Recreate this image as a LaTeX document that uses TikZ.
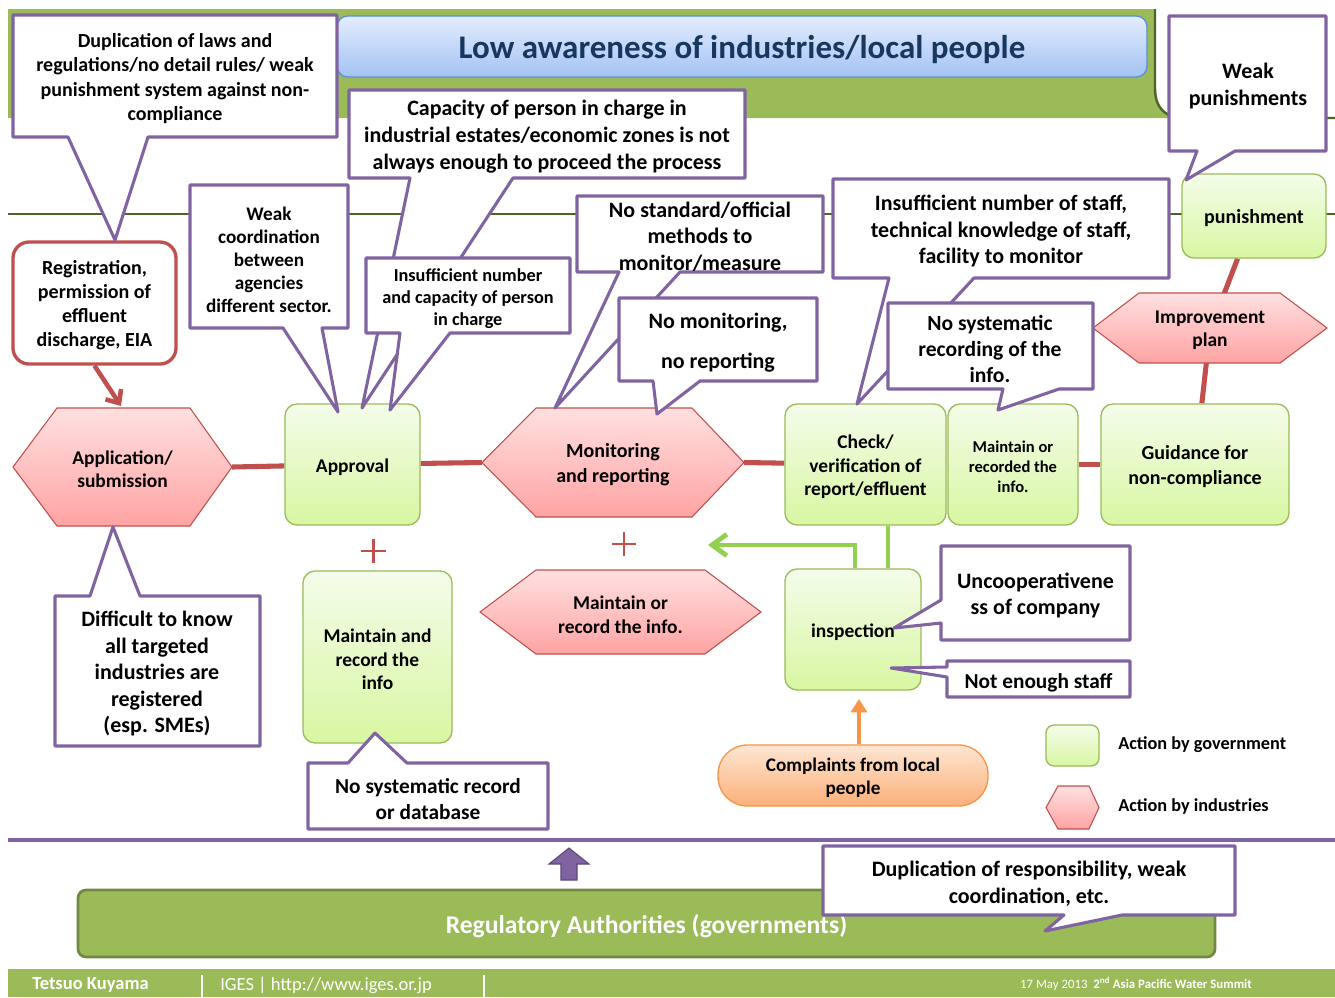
\documentclass[tikz,border=0pt]{standalone}
\usepackage{fontspec}
\setmainfont{Carlito}
\usetikzlibrary{arrows.meta}
\definecolor{bandgreen}{HTML}{9BBB59}
\definecolor{darkgreen}{HTML}{4F6228}
\definecolor{cpurple}{HTML}{8064A2}
\definecolor{cpurpledark}{HTML}{5C4776}
\definecolor{linkred}{HTML}{C0504D}
\definecolor{govtop}{HTML}{F4FCEA}
\definecolor{govbot}{HTML}{D8F7A2}
\definecolor{govborder}{HTML}{9BBB59}
\definecolor{indtop}{HTML}{FFE0E0}
\definecolor{indbot}{HTML}{FFA3A3}
\definecolor{titletop}{HTML}{E3EDFC}
\definecolor{titlebot}{HTML}{A3C2F4}
\definecolor{titleborder}{HTML}{5B8FD6}
\definecolor{titletext}{HTML}{17375E}
\definecolor{orgtop}{HTML}{FDE6D3}
\definecolor{orgbot}{HTML}{FBB07A}
\definecolor{orgborder}{HTML}{F79646}
\definecolor{arrgreen}{HTML}{92D050}
\definecolor{regborder}{HTML}{71893F}
\newcommand\ctf[2]{\bfseries\fontsize{#1}{#2}\selectfont}
\newcommand\govnode[7][]{%
  \node[govbox, minimum width={(#5-#3)*0.75pt}, minimum height={(#6-#4)*0.75pt}, #1] (#2) at ({(#3+#5)/2},{(#4+#6)/2}) {};
  \node[boxtext, #1] (#2-t) at (#2.center) {#7};}
\newcommand\indnode[9][]{%
  \path[indhex] (#3,{(#7+#8)/2}) -- (#4,#7) -- (#5,#7) -- (#6,{(#7+#8)/2}) -- (#5,#8) -- (#4,#8) -- cycle;
  \coordinate (#2-w) at (#3,{(#7+#8)/2});
  \coordinate (#2-e) at (#6,{(#7+#8)/2});
  \node[boxtext, #1] (#2) at ({(#3+#6)/2},{(#7+#8)/2}) {#9};}
\pgfdeclarelayer{bgzero}
\pgfdeclarelayer{links}
\pgfsetlayers{bgzero,links,main}
\begin{document}
\begin{tikzpicture}[x=0.75pt,y=-0.75pt,
  calloutbox/.style={draw=cpurple, line width=2.3pt, fill=white, line join=round},
  ctext/.style={font=\ctf{16.5}{19.9}, align=center, inner sep=0pt, text=black, yshift=-2pt},
  govbox/.style={draw=govborder, line width=1pt, rounded corners=9pt, top color=govtop, bottom color=govbot, inner sep=0pt},
  boxtext/.style={inner sep=0pt, align=center, font=\ctf{14.6}{17.5}, yshift=-1.8pt},
  indhex/.style={draw=linkred, line width=0.8pt, top color=indtop, bottom color=indbot},
  redlink/.style={draw=linkred, line width=3.8pt},
  glink/.style={draw=arrgreen, line width=3.6pt},
  garrow/.style={draw=arrgreen, line width=3.6pt, -{Straight Barb[length=11pt,width=16pt]}},
  oarrow/.style={draw=orgborder, line width=3.4pt, -{Triangle[length=10pt,width=12pt]}},
  rarrow/.style={draw=linkred, line width=3.4pt, -{Straight Barb[length=8pt,width=14pt]}},
  legtext/.style={anchor=west, inner sep=0pt, font=\ctf{13.7}{16}, yshift=-1.5pt}
]
\useasboundingbox (0,0) rectangle (1335,997);
\begin{pgfonlayer}{bgzero}
\fill[white] (0,0) rectangle (1335,997);
\end{pgfonlayer}

% background bands and rules
\fill[bandgreen] (8,9) -- (1155,9) -- (1155,88) .. controls (1155,108) and (1165,118) .. (1185,118) -- (8,118) -- cycle;
\draw[darkgreen, line width=1.8pt] (1155,9) -- (1155,88) .. controls (1155,108) and (1165,118) .. (1185,118) -- (1335,118);
\draw[darkgreen, line width=2pt] (8,214) -- (1335,214);
\draw[cpurple, line width=3pt] (8,840) -- (1335,840);
\fill[bandgreen] (8,969) rectangle (1335,997);

% title
\node[draw=titleborder, line width=1pt, rounded corners=8pt, top color=titletop, bottom color=titlebot,
  minimum width={810*0.75pt}, minimum height={61*0.75pt}] (title) at (742,46.5) {};
\node[boxtext, text=titletext, font=\ctf{24.75}{29}, yshift=-0.5pt] (title-t) at (title.center) {Low awareness of industries/local people};

% process nodes
\node[draw=linkred, line width=2.5pt, fill=white, rounded corners=12pt, minimum width={163*0.75pt}, minimum height={122*0.75pt}] (reg) at (94.5,303) {};
\node[boxtext, font=\ctf{15}{18}] (reg-t) at (reg.center) {Registration,\\permission of\\effluent\\discharge, EIA};
\indnode{app}{13}{57}{190}{232}{408}{526}{Application/\\submission}
\govnode{appr}{285}{404}{420}{525}{Approval}
\indnode[font=\ctf{15}{18.7}]{mon}{482}{536}{692}{744}{408}{517}{Monitoring\\and reporting}
\govnode{check}{785}{404}{946}{525}{Check/\\verification of\\report/effluent}
\govnode[font=\ctf{12.4}{15}]{mrec}{948}{404}{1078}{525}{Maintain or\\recorded the\\info.}
\govnode[font=\ctf{15}{18.7}]{guid}{1101}{404}{1289}{525}{Guidance for\\non-compliance}
\indnode{impr}{1093}{1139}{1280}{1327}{293}{363}{Improvement\\plan}
\govnode[font=\ctf{15}{18}]{pun}{1182}{174}{1326}{258}{punishment}
\govnode{mr}{303}{571}{452}{743}{Maintain and\\record the\\info}
\indnode[font=\ctf{14.6}{18}]{mrh}{480}{536}{705}{761}{570}{654}{Maintain or\\record the info.}
\govnode{insp}{785}{569}{921}{690}{inspection}
\node[draw=orgborder, line width=1pt, rounded corners=22pt, top color=orgtop, bottom color=orgbot,
  minimum width={270*0.75pt}, minimum height={61*0.75pt}] (compl) at (853,775.5) {};
\node[boxtext, font=\ctf{14.4}{17.3}] (compl-t) at (compl.center) {Complaints from local\\people};

% legend
\govnode[rounded corners=6pt]{leggov}{1046}{725}{1099}{766}{}
\indnode{legind}{1046}{1058}{1089}{1099}{786}{829}{}
\node[legtext] (lgtxt1) at (1118,743) {Action by government};
\node[legtext] (lgtxt2) at (1118,804) {Action by industries};

% connectors
\coordinate (gx) at (888,0);
\coordinate (ax) at (855,0);
\coordinate (gtip) at (708,545);
\coordinate (ox) at (859,0);
\coordinate (otip) at (859,699);
\coordinate (regtip) at (121,406);
\begin{pgfonlayer}{links}
\draw[redlink] (app-e) -- (appr);
\draw[redlink] (appr) -- (mon-w);
\draw[redlink] (mon-e) -- (check);
\draw[redlink] (mrec) -- (guid);
\draw[redlink] (pun) -- (impr);
\draw[redlink] (impr) -- (guid);
\draw[glink] (check.south -| gx) -- (insp.north -| gx);
\draw[garrow] (insp.north -| ax) |- (gtip);
\end{pgfonlayer}
\draw[oarrow] (compl.north -| ox) -- (otip);
\draw[rarrow] (reg.south) -- (regtip);

% plus signs
\draw[linkred, line width=2pt] (361,551) -- (386,551) (373.5,539) -- (373.5,563);
\draw[linkred, line width=2pt] (612,544) -- (636,544) (624,532) -- (624,556);

% callouts
\draw[calloutbox] (13,15) -- (337,15) -- (337,137) -- (148,137) -- (115,240) -- (68,137) -- (13,137) -- cycle;
\node[ctext, font=\ctf{15}{18.3}] (c1) at (175,76) {Duplication of laws and\\regulations/no detail rules/ weak\\punishment system against non-\\compliance};

\draw[calloutbox] (190,185) -- (348,185) -- (348,328) -- (322,328) -- (338,412) -- (283,328) -- (190,328) -- cycle;
\node[ctext, font=\ctf{14.4}{17.3}] (c3) at (269,257) {Weak\\coordination\\between\\agencies\\different sector.};

\draw[calloutbox] (349,90) -- (745,90) -- (745,178) -- (513,178) -- (362,408) -- (410,178) -- (349,178) -- cycle;
\node[ctext] (c2) at (547,134) {Capacity of person in charge in\\industrial estates/economic zones is not\\always enough to proceed the process};

\draw[calloutbox] (366,258) -- (570,258) -- (570,333) -- (450,333) -- (390,410) -- (400,333) -- (366,333) -- cycle;
\node[ctext, font=\ctf{13.7}{16.5}] (c4) at (468,296) {Insufficient number\\and capacity of person\\in charge};

\draw[calloutbox] (577,196) -- (823,196) -- (823,272) -- (680,272) -- (555,408) -- (619,272) -- (577,272) -- cycle;
\node[ctext] (c5) at (700,234) {No standard/official\\methods to\\monitor/measure};

\draw[calloutbox] (619,298) -- (817,298) -- (817,381) -- (700,381) -- (657,414) -- (653,381) -- (619,381) -- cycle;
\node[ctext, font=\ctf{16.5}{30}] (c6) at (718,340) {No monitoring,\\no reporting};

\draw[calloutbox] (833,179) -- (1169,179) -- (1169,278) -- (974,278) -- (857,404) -- (889,278) -- (833,278) -- cycle;
\node[ctext] (c7) at (1001,228.5) {Insufficient number of staff,\\technical knowledge of staff,\\facility to monitor};

\draw[calloutbox] (888,303) -- (1093,303) -- (1093,389) -- (1059,389) -- (998,410) -- (1003,389) -- (888,389) -- cycle;
\node[ctext, font=\ctf{16.2}{19.5}] (c8) at (990,346) {No systematic\\recording of the\\info.};

\draw[calloutbox] (1169,16) -- (1326,16) -- (1326,151) -- (1235,151) -- (1186,180) -- (1197,151) -- (1169,151) -- cycle;
\node[ctext, font=\ctf{16.5}{20}] (c9) at (1248,83.5) {Weak\\punishments};

\draw[calloutbox] (55,596) -- (90,596) -- (113,527) -- (140,596) -- (260,596) -- (260,746) -- (55,746) -- cycle;
\node[ctext] (c10) at (157,671) {Difficult to know\\all targeted\\industries are\\registered\\(esp. SMEs)};

\draw[calloutbox] (308,763) -- (348,763) -- (375,733) -- (407,763) -- (548,763) -- (548,829) -- (308,829) -- cycle;
\node[ctext, font=\ctf{16}{19.5}] (c11) at (428,796.5) {No systematic record\\or database};

\draw[calloutbox] (941,546) -- (1130,546) -- (1130,640) -- (941,640) -- (941,623) -- (894,628) -- (941,600) -- cycle;
\node[ctext] (c12) at (1035.5,593) {Uncooperativene\\ss of company};

\draw[calloutbox] (947,661) -- (1130,661) -- (1130,697) -- (947,697) -- (947,677) -- (891,668) -- (947,667) -- cycle;
\node[ctext, font=\ctf{16}{19.5}] (c13) at (1038.5,680) {Not enough staff};

% bottom: authorities
\draw[fill=cpurple, draw=cpurpledark, line width=0.8pt] (569,848) -- (589,864) -- (577,864) -- (577,880) -- (561,880) -- (561,864) -- (549,864) -- cycle;
\node[draw=regborder, line width=2pt, fill=bandgreen, rounded corners=6pt, minimum width={1137*0.75pt}, minimum height={67*0.75pt}] (auth) at (646.5,923.5) {};
\node[boxtext, text=white, font=\ctf{19.2}{23}] (auth-t) at (auth.center) {Regulatory Authorities (governments)};

\draw[calloutbox] (823,846) -- (1235,846) -- (1235,915) -- (1122,915) -- (1045,931) -- (1064,915) -- (823,915) -- cycle;
\node[ctext] (c14) at (1029,881) {Duplication of responsibility, weak\\coordination, etc.};

% footer
\node[anchor=west, inner sep=0pt, text=white, font=\ctf{13.9}{16}, yshift=-0.8pt] (author) at (32,984) {Tetsuo Kuyama};
\draw[white, line width=1.5pt] (202,975) -- (202,997);
\node[anchor=west, inner sep=0pt, text=white, font=\fontsize{13.9}{16}\selectfont, yshift=-0.8pt] (iges) at (220,984) {IGES | http://www.iges.or.jp};
\draw[white, line width=1.5pt] (484,975) -- (484,997);
\node[anchor=east, inner sep=0pt, text=white, font=\fontsize{9.6}{11}\selectfont] (date) at (1252,984) {17 May 2013\ \ \textbf{2\textsuperscript{nd} Asia Pacific Water Summit}};
\end{tikzpicture}
\end{document}
